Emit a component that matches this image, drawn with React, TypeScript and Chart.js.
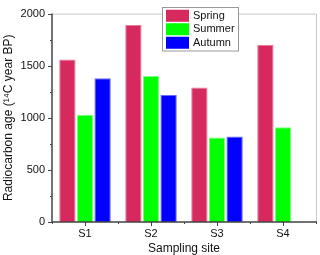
import React, { useEffect, useRef } from "react";
import { Chart, registerables } from "chart.js";

Chart.register(...registerables);

const categories = ["S1", "S2", "S3", "S4"];
const spring = [1560, 1890, 1290, 1700];
const summer = [1030, 1400, 810, 910];
const autumn = [1380, 1220, 820, null];
const seriesNames = ["Spring", "Summer", "Autumn"];
const seriesColors = ["#D62A5F", "#00FF00", "#0000FF"];
const seriesBorders = ["#E8799B", "#7CFF7C", "#6A6AFF"];
const yMin = 0;
const yMax = 2000;
const yStep = 500;

const FONT = "'Liberation Sans', Arial, sans-serif";

const axesPlugin = {
  id: "customAxes",
  afterDraw(chart: any) {
    const { ctx, chartArea } = chart;
    const { left, right, top, bottom } = chartArea;
    const x = chart.scales.x;
    const y = chart.scales.y;
    ctx.save();
    ctx.strokeStyle = "#c8c8c8";
    ctx.lineWidth = 1;
    ctx.beginPath();
    ctx.moveTo(left, top + 0.5);
    ctx.lineTo(right + 0.5, top + 0.5);
    ctx.lineTo(right + 0.5, bottom);
    ctx.stroke();
    ctx.strokeStyle = "#444";
    ctx.lineWidth = 1.5;
    ctx.beginPath();
    ctx.moveTo(left, top);
    ctx.lineTo(left, bottom);
    ctx.lineTo(right + 1, bottom);
    ctx.stroke();
    ctx.lineWidth = 1;
    for (let v = yMin; v <= yMax; v += yStep / 2) {
      const py = Math.round(y.getPixelForValue(v)) + 0.5;
      const len = v % yStep === 0 ? 4 : 2;
      ctx.beginPath();
      ctx.moveTo(left - len, py);
      ctx.lineTo(left, py);
      ctx.stroke();
    }
    const n = categories.length;
    for (let i = 0; i < n; i++) {
      const px = Math.round(x.getPixelForValue(i)) + 0.5;
      ctx.beginPath();
      ctx.moveTo(px, bottom);
      ctx.lineTo(px, bottom + 4);
      ctx.stroke();
    }
    for (let i = 0; i <= n; i++) {
      const px = Math.round(x.getPixelForValue(i - 0.5)) + 0.5;
      ctx.beginPath();
      ctx.moveTo(px, bottom);
      ctx.lineTo(px, bottom + 2);
      ctx.stroke();
    }
    const lx = 162;
    const ly = 7;
    const lw = 76;
    const rowH = 13.5;
    const lh = rowH * seriesNames.length + 3;
    ctx.fillStyle = "#ffffff";
    ctx.fillRect(lx, ly, lw, lh);
    ctx.strokeStyle = "#999";
    ctx.strokeRect(lx + 0.5, ly + 0.5, lw, lh);
    ctx.font = `11px ${FONT}`;
    ctx.textBaseline = "middle";
    ctx.textAlign = "left";
    seriesNames.forEach((name, i) => {
      const cy = ly + 2 + rowH * i + rowH / 2;
      ctx.fillStyle = seriesColors[i];
      ctx.fillRect(lx + 4, cy - 6, 23, 12);
      ctx.fillStyle = "#111";
      ctx.fillText(name, lx + 31, cy);
    });
    ctx.restore();
  },
};

export default function App() {
  const canvasRef = useRef<HTMLCanvasElement | null>(null);

  useEffect(() => {
    document.body.style.margin = "0";
    const canvas = canvasRef.current;
    if (!canvas) return;
    const datasets = [spring, summer, autumn].map((d, i) => ({
      label: seriesNames[i],
      data: d,
      backgroundColor: seriesColors[i],
      borderColor: seriesBorders[i],
      borderWidth: 1,
      categoryPercentage: 0.8,
      barPercentage: 0.93,
    }));
    const chart = new Chart(canvas, {
      type: "bar",
      data: { labels: categories, datasets },
      plugins: [axesPlugin],
      options: {
        responsive: false,
        animation: false,
        layout: { padding: { top: 7, right: 4, left: 0, bottom: 0 } },
        plugins: { legend: { display: false }, tooltip: { enabled: false } },
        scales: {
          x: {
            grid: { display: false, drawTicks: false },
            border: { display: false },
            ticks: { font: { family: FONT, size: 11 }, color: "#111", padding: 5 },
            title: {
              display: true,
              text: "Sampling site",
              font: { family: FONT, size: 12 },
              color: "#111",
              padding: { top: 0, bottom: -1 },
            },
            afterFit: (s: any) => {
              s.height = 33;
            },
          },
          y: {
            min: yMin,
            max: yMax,
            grid: { display: false, drawTicks: false },
            border: { display: false },
            ticks: {
              stepSize: yStep,
              font: { family: FONT, size: 11 },
              color: "#111",
              padding: 7,
              callback: (v: any) => String(v),
            },
            title: {
              display: true,
              text: "Radiocarbon age (\u00B9\u2074C year BP)",
              font: { family: FONT, size: 12 },
              color: "#111",
              padding: { top: 1, bottom: 0 },
            },
            afterFit: (s: any) => {
              s.width = 52;
            },
          },
        },
      },
    });
    return () => chart.destroy();
  }, []);

  return (
    <div style={{ width: 320, height: 255, background: "#fff" }}>
      <canvas ref={canvasRef} width={320} height={255} />
    </div>
  );
}
